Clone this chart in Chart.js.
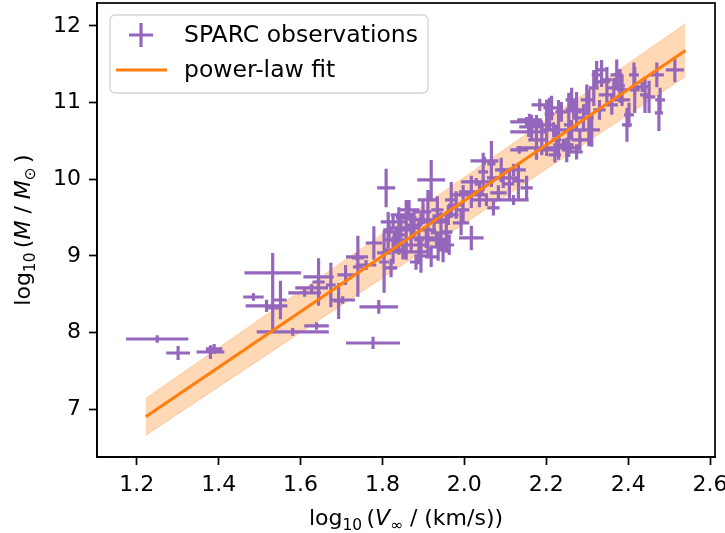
<!DOCTYPE html>
<html>
<head>
<meta charset="utf-8">
<script src="https://cdn.jsdelivr.net/npm/chart.js@4.4.1/dist/chart.umd.min.js"></script>
<style>
  html, body { margin: 0; padding: 0; background: #fff; }
  #wrap { position: relative; width: 725px; height: 533px; }
</style>
</head>
<body>
<div id="wrap"><canvas id="chart"></canvas></div>
<script>
// SPARC galaxies: log10 V_inf (km/s) and log10 M (M_sun), with 1-sigma errors
const obsX = [
  1.250, 1.301, 1.380, 1.389, 1.532, 1.532, 1.485, 1.517, 1.551, 1.581,
  1.639, 1.610, 1.627, 1.644, 1.644, 1.674, 1.693, 1.703, 1.738, 1.740,
  1.791, 1.777, 1.804, 1.710, 1.809, 1.919, 1.740, 1.760, 1.779, 1.804,
  1.821, 1.833, 1.845, 1.858, 1.870, 1.877, 1.889, 1.894, 1.907, 1.919,
  1.926, 1.936, 1.943, 1.956, 1.961, 1.840, 1.816, 1.865, 1.899, 1.911,
  1.850, 1.882, 1.826, 1.934, 1.980, 1.997, 2.017, 2.029, 2.046, 2.049,
  2.066, 2.083, 2.095, 2.110, 2.132, 2.152, 2.017, 1.992, 1.968, 2.054,
  2.071, 2.120, 2.159, 2.157, 2.134, 2.189, 2.208, 2.218, 2.230, 2.242,
  2.255, 2.267, 2.282, 2.291, 2.304, 2.311, 2.201, 2.184, 2.221, 2.262,
  2.237, 2.176, 2.274, 2.323, 2.335, 2.348, 2.365, 2.380, 2.348, 2.397,
  2.402, 2.416, 2.434, 2.441, 2.451, 2.470, 2.475, 2.478, 2.514, 2.360,
  2.385, 2.330, 2.201, 2.120, 1.814, 2.152, 2.164, 2.176, 2.201, 2.213,
  2.225, 2.250, 2.262, 2.274, 2.299, 2.316, 2.335, 2.372, 2.414, 2.385,
  1.840, 1.870, 1.889, 1.911, 1.932, 1.948, 1.826, 1.858, 1.894, 1.943,
  1.963, 1.997, 2.037, 2.090
];
const obsY = [
  7.915, 7.732, 7.745, 7.785, 8.777, 8.320, 8.463, 8.346, 8.424, 8.007,
  8.085, 8.516, 8.581, 8.659, 8.725, 8.620, 8.411, 8.424, 8.986, 8.855,
  8.333, 7.863, 8.920, 8.751, 9.886, 9.991, 8.973, 8.881, 9.168, 9.038,
  8.842, 9.208, 9.364, 9.338, 9.142, 9.403, 9.051, 8.999, 9.234, 8.986,
  9.443, 9.116, 9.299, 9.312, 9.534, 9.534, 9.312, 9.599, 9.573, 9.730,
  9.051, 8.920, 9.077, 9.599, 9.664, 9.795, 9.834, 9.965, 10.095, 10.239,
  10.200, 9.821, 10.017, 9.939, 9.978, 9.886, 9.234, 9.430, 9.730, 9.730,
  9.626, 10.121, 10.774, 10.617, 10.383, 10.513, 10.852, 10.644, 10.644, 10.448,
  10.709, 10.905, 10.513, 10.800, 10.800, 10.644, 10.383, 10.970, 10.317, 11.035,
  10.879, 10.709, 10.356, 11.362, 11.270, 11.296, 11.192, 11.218, 11.101, 10.709,
  10.839, 11.166, 11.205, 11.101, 11.074, 11.362, 10.865, 11.035, 11.427, 10.970,
  11.035, 10.905, 10.409, 9.730, 9.338, 10.748, 10.683, 10.513, 10.709, 10.931,
  10.513, 10.383, 10.644, 10.879, 11.035, 11.192, 11.427, 11.362, 11.362, 11.166,
  9.273, 9.364, 9.208, 9.338, 9.208, 9.077, 9.443, 9.495, 9.469, 9.469,
  9.142, 9.599, 9.795, 10.121
];
const obsXErr = [
  0.076, 0.029, 0.034, 0.020, 0.069, 0.015, 0.025, 0.051, 0.015, 0.088,
  0.030, 0.040, 0.040, 0.015, 0.037, 0.012, 0.012, 0.030, 0.027, 0.012,
  0.047, 0.066, 0.012, 0.020, 0.022, 0.034, 0.015, 0.025, 0.020, 0.017,
  0.015, 0.025, 0.030, 0.012, 0.034, 0.020, 0.020, 0.015, 0.025, 0.015,
  0.030, 0.020, 0.025, 0.015, 0.025, 0.020, 0.015, 0.025, 0.020, 0.025,
  0.020, 0.015, 0.020, 0.015, 0.020, 0.025, 0.030, 0.037, 0.012, 0.034,
  0.010, 0.020, 0.040, 0.012, 0.015, 0.015, 0.030, 0.020, 0.015, 0.040,
  0.015, 0.030, 0.030, 0.045, 0.022, 0.015, 0.012, 0.025, 0.012, 0.025,
  0.012, 0.020, 0.020, 0.015, 0.012, 0.020, 0.030, 0.020, 0.015, 0.015,
  0.015, 0.020, 0.015, 0.012, 0.020, 0.012, 0.015, 0.012, 0.020, 0.012,
  0.012, 0.012, 0.020, 0.012, 0.015, 0.017, 0.010, 0.012, 0.022, 0.015,
  0.020, 0.015, 0.074, 0.037, 0.012, 0.040, 0.030, 0.020, 0.015, 0.020,
  0.012, 0.012, 0.025, 0.012, 0.015, 0.012, 0.012, 0.015, 0.012, 0.012,
  0.015, 0.020, 0.012, 0.020, 0.025, 0.015, 0.030, 0.025, 0.030, 0.020,
  0.012, 0.015, 0.020, 0.015
];
const obsYErr = [
  0.05, 0.09, 0.09, 0.065, 0.26, 0.29, 0.05, 0.08, 0.25, 0.05,
  0.05, 0.05, 0.05, 0.31, 0.05, 0.29, 0.235, 0.05, 0.05, 0.39,
  0.09, 0.08, 0.40, 0.13, 0.25, 0.26, 0.29, 0.065, 0.22, 0.26,
  0.12, 0.16, 0.13, 0.39, 0.10, 0.18, 0.16, 0.22, 0.13, 0.13,
  0.10, 0.18, 0.16, 0.27, 0.13, 0.10, 0.13, 0.13, 0.16, 0.13,
  0.10, 0.10, 0.18, 0.18, 0.18, 0.13, 0.21, 0.05, 0.25, 0.05,
  0.30, 0.10, 0.13, 0.21, 0.235, 0.16, 0.16, 0.16, 0.235, 0.08,
  0.10, 0.08, 0.08, 0.065, 0.05, 0.20, 0.21, 0.10, 0.39, 0.08,
  0.42, 0.13, 0.13, 0.18, 0.37, 0.22, 0.08, 0.08, 0.10, 0.16,
  0.13, 0.13, 0.10, 0.18, 0.065, 0.17, 0.13, 0.22, 0.10, 0.22,
  0.16, 0.30, 0.065, 0.235, 0.21, 0.16, 0.235, 0.16, 0.16, 0.13,
  0.08, 0.13, 0.065, 0.065, 0.235, 0.065, 0.16, 0.26, 0.33, 0.16,
  0.20, 0.16, 0.13, 0.26, 0.20, 0.235, 0.13, 0.20, 0.16, 0.20,
  0.26, 0.20, 0.29, 0.33, 0.10, 0.16, 0.08, 0.08, 0.08, 0.10,
  0.13, 0.16, 0.16, 0.16
];

// power-law fit (straight in log-log) and its uncertainty band
const fitX = [1.222, 2.540];
const fitY = [6.90, 11.68];
const bandLow = [6.66, 11.34];
const bandHigh = [7.14, 12.03];

const xTicks = [1.2, 1.4, 1.6, 1.8, 2.0, 2.2, 2.4, 2.6];
const yTicks = [7, 8, 9, 10, 11, 12];
const xRange = [1.103, 2.612];
const yRange = [6.375, 12.30];

const PURPLE = '#9467bd';
const ORANGE = '#ff7f0e';
const FONT = '"DejaVu Sans", sans-serif';
const FS = 22;
const LEGEND_FS = 23.5;

const pts = (xs, ys) => xs.map((v, i) => ({ x: v, y: ys[i] }));

// draw x/y error bars right after the observations dataset
const errorBars = {
  id: 'errorBars',
  afterDatasetDraw(chart, args) {
    if (args.index !== 2) return;
    const { ctx, chartArea: a, scales: { x, y } } = chart;
    ctx.save();
    ctx.beginPath();
    ctx.rect(a.left, a.top, a.right - a.left, a.bottom - a.top);
    ctx.clip();
    ctx.strokeStyle = PURPLE;
    ctx.lineWidth = 3.2;
    ctx.lineCap = 'butt';
    ctx.beginPath();
    obsX.forEach((vx, i) => {
      const px = x.getPixelForValue(vx);
      const py = y.getPixelForValue(obsY[i]);
      ctx.moveTo(x.getPixelForValue(vx - obsXErr[i]), py);
      ctx.lineTo(x.getPixelForValue(vx + obsXErr[i]), py);
      ctx.moveTo(px, y.getPixelForValue(obsY[i] - obsYErr[i]));
      ctx.lineTo(px, y.getPixelForValue(obsY[i] + obsYErr[i]));
    });
    ctx.stroke();
    ctx.restore();
  }
};

// full box around the axes, like matplotlib spines
const frame = {
  id: 'frame',
  afterDatasetsDraw(chart) {
    const { ctx, chartArea: a } = chart;
    ctx.save();
    ctx.strokeStyle = '#000';
    ctx.lineWidth = 1.7;
    ctx.strokeRect(a.left, a.top, a.right - a.left, a.bottom - a.top);
    ctx.restore();
  }
};

function rich(ctx, parts, cx, cy, angle) {
  const fontOf = p => (p.it ? 'italic ' : '') + (p.sub ? FS * 0.7 : FS) + 'px ' + FONT;
  ctx.save();
  ctx.translate(cx, cy);
  ctx.rotate(angle);
  let total = 0;
  parts.forEach(p => { ctx.font = fontOf(p); p.w = ctx.measureText(p.t).width; total += p.w; });
  let xp = -total / 2;
  ctx.fillStyle = '#000';
  ctx.textBaseline = 'alphabetic';
  parts.forEach(p => {
    ctx.font = fontOf(p);
    ctx.fillText(p.t, xp, p.sub ? 5 : 0);
    xp += p.w;
  });
  ctx.restore();
}

const axisTitles = {
  id: 'axisTitles',
  afterDraw(chart) {
    const { ctx, chartArea: a } = chart;
    rich(ctx, [
      { t: 'log' }, { t: '10', sub: true }, { t: '\u2009(' }, { t: 'V', it: true },
      { t: '\u221e', sub: true }, { t: ' / (km/s))' }
    ], (a.left + a.right) / 2, 525, 0);
    rich(ctx, [
      { t: 'log' }, { t: '10', sub: true }, { t: '\u2009(' }, { t: 'M', it: true },
      { t: ' / ' }, { t: 'M', it: true }, { t: '\u2299', sub: true }, { t: '\u2009)' }
    ], 30, (a.top + a.bottom) / 2, -Math.PI / 2);
  }
};

const legendBox = {
  id: 'legendBox',
  afterDraw(chart) {
    const { ctx, chartArea: a } = chart;
    const ds = chart.data.datasets;
    const bx = a.left + 13, by = a.top + 12, bw = 318, bh = 78;
    ctx.save();
    ctx.beginPath();
    ctx.roundRect(bx, by, bw, bh, 5);
    ctx.fillStyle = 'rgba(255,255,255,0.8)';
    ctx.fill();
    ctx.strokeStyle = '#d3d3d3';
    ctx.lineWidth = 1.3;
    ctx.stroke();
    const r1 = by + 20, r2 = by + 55;
    ctx.lineWidth = 3.2;
    ctx.strokeStyle = PURPLE;
    ctx.beginPath();
    ctx.moveTo(bx + 19, r1); ctx.lineTo(bx + 43, r1);
    ctx.moveTo(bx + 31, r1 - 12); ctx.lineTo(bx + 31, r1 + 12);
    ctx.stroke();
    ctx.strokeStyle = ORANGE;
    ctx.beginPath();
    ctx.moveTo(bx + 6, r2); ctx.lineTo(bx + 57, r2);
    ctx.stroke();
    ctx.fillStyle = '#000';
    ctx.font = LEGEND_FS + 'px ' + FONT;
    ctx.textBaseline = 'middle';
    ctx.fillText(ds[2].label, bx + 74, r1 + 1);
    ctx.fillText(ds[3].label, bx + 74, r2 + 1);
    ctx.restore();
  }
};

new Chart(document.getElementById('chart'), {
  type: 'scatter',
  data: {
    datasets: [
      {
        type: 'line', label: 'band high', data: pts(fitX, bandHigh),
        borderColor: 'rgba(255,127,14,0.3)', borderWidth: 1,
        backgroundColor: 'rgba(255,127,14,0.3)', fill: '+1',
        pointRadius: 0, order: 3
      },
      {
        type: 'line', label: 'band low', data: pts(fitX, bandLow),
        borderColor: 'rgba(255,127,14,0.3)', borderWidth: 1,
        fill: false, pointRadius: 0, order: 3
      },
      {
        label: 'SPARC observations', data: pts(obsX, obsY),
        pointRadius: 0, borderColor: PURPLE, backgroundColor: PURPLE, order: 2
      },
      {
        type: 'line', label: 'power-law fit', data: pts(fitX, fitY),
        borderColor: ORANGE, borderWidth: 3.2, pointRadius: 0, fill: false, order: 1
      }
    ]
  },
  options: {
    responsive: true,
    maintainAspectRatio: false,
    animation: false,
    layout: { padding: { top: 3, right: 10, left: 0, bottom: 0 } },
    plugins: {
      legend: { display: false },
      tooltip: { enabled: false }
    },
    scales: {
      x: {
        type: 'linear',
        min: xRange[0], max: xRange[1],
        afterBuildTicks: s => { s.ticks = xTicks.map(v => ({ value: v })); },
        afterFit: s => { s.height = 76; s.paddingLeft = 0; s.paddingRight = 0; },
        ticks: {
          color: '#000', padding: 7, maxRotation: 0, autoSkip: false,
          font: { family: FONT, size: FS },
          callback: v => v.toFixed(1)
        },
        grid: { drawOnChartArea: false, drawTicks: true, tickLength: 8, tickWidth: 1.7, tickColor: '#000' },
        border: { display: true, color: '#000', width: 1.7 }
      },
      y: {
        type: 'linear',
        min: yRange[0], max: yRange[1],
        afterBuildTicks: s => { s.ticks = yTicks.map(v => ({ value: v })); },
        afterFit: s => { s.width = 97; s.paddingTop = 0; s.paddingBottom = 0; },
        ticks: {
          color: '#000', padding: 8, autoSkip: false,
          font: { family: FONT, size: FS },
          callback: v => String(v)
        },
        grid: { drawOnChartArea: false, drawTicks: true, tickLength: 8, tickWidth: 1.7, tickColor: '#000' },
        border: { display: true, color: '#000', width: 1.7 }
      }
    }
  },
  plugins: [errorBars, frame, axisTitles, legendBox]
});
</script>
</body>
</html>
